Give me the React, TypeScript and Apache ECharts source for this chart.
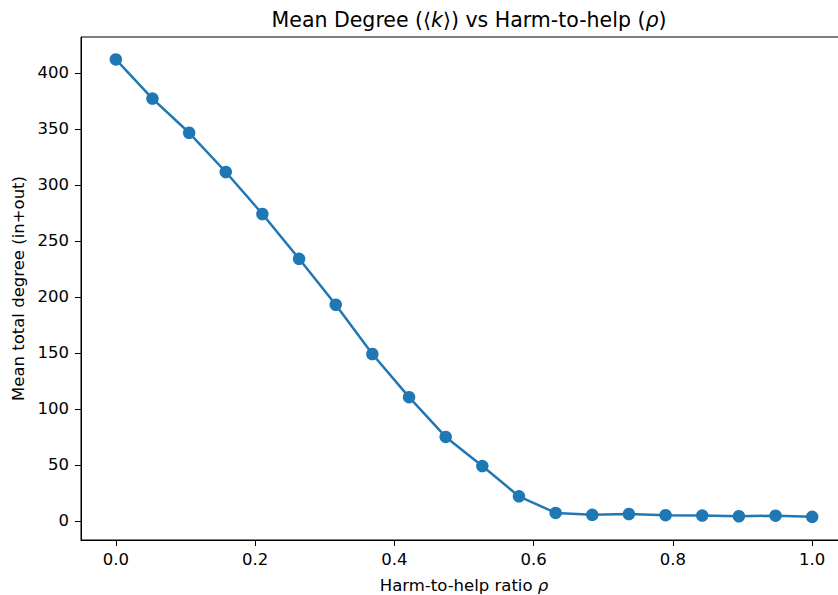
import React, { useEffect, useRef } from "react";
import * as echarts from "echarts";

const rhoValues = [0, 0.0526, 0.1053, 0.1579, 0.2105, 0.2632, 0.3158, 0.3684, 0.4211, 0.4737, 0.5263, 0.5789, 0.6316, 0.6842, 0.7368, 0.7895, 0.8421, 0.8947, 0.9474, 1.0];
const meanDegree = [412, 377, 346.5, 311.5, 274, 234, 193, 149, 110.5, 75, 49, 22, 7.2, 5.5, 6.2, 5.2, 4.8, 4.2, 4.7, 3.7];
const xTicks = [0, 0.2, 0.4, 0.6, 0.8, 1.0];
const yTicks = [0, 50, 100, 150, 200, 250, 300, 350, 400];

const FONT = "DejaVu Sans";
const TICK_FS = 16.5;
const TITLE_FS = 20.5;

export default function App() {
  const ref = useRef<HTMLDivElement>(null);
  useEffect(() => {
    if (!ref.current) return;
    const chart = echarts.init(ref.current, null, { renderer: "svg" });
    chart.setOption({
      animation: false,
      backgroundColor: "#ffffff",
      title: {
        text: "{n|Mean Degree (⟨}{i|k}{n|⟩) vs Harm-to-help (}{i|ρ}{n|)}",
        left: 464,
        textAlign: "center",
        top: 4,
        textStyle: {
          fontWeight: "normal",
          rich: {
            n: { fontFamily: FONT, fontSize: TITLE_FS, color: "#000", fontWeight: "normal" },
            i: { fontFamily: FONT, fontSize: TITLE_FS, color: "#000", fontStyle: "italic", fontWeight: "normal" },
          },
        },
      },
      grid: {
        left: 81,
        top: 37,
        width: 766,
        height: 503,
        outerBoundsMode: "none",
        containLabel: false,
        show: true,
        borderColor: "#000",
        borderWidth: 1,
        backgroundColor: "transparent",
      },
      xAxis: {
        type: "value",
        min: -0.05,
        max: 1.05,
        name: "{n|Harm-to-help ratio }{i|ρ}",
        nameLocation: "middle",
        nameGap: 37,
        nameTextStyle: {
          rich: {
            n: { fontFamily: FONT, fontSize: TICK_FS, color: "#000" },
            i: { fontFamily: FONT, fontSize: TICK_FS, color: "#000", fontStyle: "italic" },
          },
        },
        axisLine: { show: true, onZero: false, lineStyle: { color: "#000", width: 1 } },
        axisTick: { show: true, length: 6, lineStyle: { color: "#000" }, customValues: xTicks },
        axisLabel: {
          customValues: xTicks,
          fontFamily: FONT,
          fontSize: TICK_FS,
          color: "#000",
          margin: 11,
          formatter: (v: number) => v.toFixed(1),
        },
        splitLine: { show: false },
      },
      yAxis: {
        type: "value",
        min: -17,
        max: 432,
        name: "Mean total degree (in+out)",
        nameLocation: "middle",
        nameGap: 53,
        nameTextStyle: { fontFamily: FONT, fontSize: TICK_FS, color: "#000" },
        axisLine: { show: true, onZero: false, lineStyle: { color: "#000", width: 1 } },
        axisTick: { show: true, length: 6, lineStyle: { color: "#000" }, customValues: yTicks },
        axisLabel: {
          customValues: yTicks,
          fontFamily: FONT,
          fontSize: TICK_FS,
          color: "#000",
          margin: 12,
        },
        splitLine: { show: false },
      },
      series: [
        {
          type: "line",
          data: rhoValues.map((x, i) => [x, meanDegree[i]]),
          symbol: "circle",
          symbolSize: 12.5,
          lineStyle: { color: "#1f77b4", width: 2.5 },
          itemStyle: { color: "#1f77b4" },
          clip: false,
        },
      ],
    });
    return () => chart.dispose();
  }, []);
  return <div ref={ref} style={{ width: 838, height: 595, position: "absolute", left: 0, top: 0 }} />;
}
